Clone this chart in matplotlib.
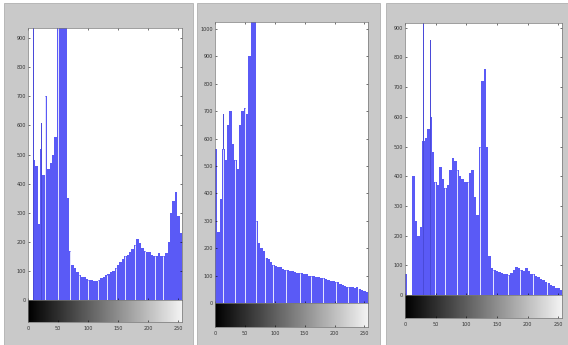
import numpy as np
import matplotlib.pyplot as plt
from matplotlib.patches import Rectangle

# ── Histogram data (64 bins of 4 grey levels each, counts) ────────────────────
bin_starts = np.arange(0, 256, 4)

counts_1 = [0, 0, 480, 460, 260, 520, 430, 700, 450, 470, 500, 560,
            1000, 1000, 1000, 1000, 350, 170, 120, 110, 95, 85, 80, 78,
            72, 70, 68, 65, 65, 70, 75, 80, 85, 90, 95, 100,
            110, 120, 130, 140, 150, 155, 165, 175, 190, 210, 195, 180,
            170, 165, 165, 155, 150, 150, 160, 150, 150, 160, 200, 300,
            340, 370, 290, 230]
counts_2 = [560, 260, 380, 560, 520, 650, 700, 580, 520, 490, 650, 700,
            710, 690, 900, 1100, 1100, 300, 220, 200, 190, 165, 160, 150,
            140, 135, 130, 130, 125, 122, 120, 118, 115, 112, 110, 110,
            108, 105, 105, 100, 100, 98, 96, 95, 92, 90, 88, 85,
            82, 80, 78, 75, 70, 65, 62, 60, 58, 58, 55, 60,
            52, 48, 45, 40]
counts_3 = [70, 0, 0, 400, 250, 200, 230, 520, 530, 560, 600, 480,
            380, 370, 430, 390, 360, 370, 420, 460, 450, 420, 400, 390,
            380, 380, 410, 420, 330, 270, 500, 720, 760, 500, 130, 90,
            85, 80, 78, 75, 70, 72, 68, 75, 85, 95, 90, 85,
            80, 90, 80, 72, 70, 65, 60, 55, 50, 45, 40, 35,
            30, 25, 22, 18]

# single-level spikes
spike_levels_1 = [8, 22, 31]
spike_counts_1 = [2000, 610, 830]
spike_levels_2 = [1, 14]
spike_counts_2 = [620, 690]
spike_levels_3 = [14, 29, 41]
spike_counts_3 = [2000, 2000, 860]

# empty grey levels (white gaps)
empty_1 = [28, 50, 69, 84, 100, 117, 131, 147, 161, 178, 194, 211, 225]
empty_2 = [14, 33, 50, 69, 83, 97, 119, 142, 161, 181, 203, 222, 239]
empty_3 = [49, 66, 85, 103, 122, 144, 168, 188, 209, 231]

y_max = [935, 1025, 916]
y_ticks = [np.arange(0, 901, 100), np.arange(0, 1001, 100), np.arange(0, 901, 100)]
x_ticks = [0, 50, 100, 150, 200, 250]

W, H = 568, 345
BLUE = "#5a5af6"

# panel boxes (pixels): grey panel, hist axes, colorbar bottom
panels = [
    dict(grey=(4, 3, 193, 345), ax=(28, 28, 182, 300), cb_bottom=322),
    dict(grey=(197, 3, 380, 345), ax=(215, 22, 368, 303), cb_bottom=327),
    dict(grey=(386, 3, 568, 345), ax=(405, 23, 562, 295), cb_bottom=318),
]
all_counts = [counts_1, counts_2, counts_3]
all_spikes = [(spike_levels_1, spike_counts_1), (spike_levels_2, spike_counts_2),
              (spike_levels_3, spike_counts_3)]
all_empty = [empty_1, empty_2, empty_3]


def frac(x0, y0, x1, y1):
    return [x0 / W, 1 - y1 / H, (x1 - x0) / W, (y1 - y0) / H]


fig = plt.figure(figsize=(W / 100, H / 100), dpi=100)
fig.patch.set_facecolor("white")

for i, p in enumerate(panels):
    gx0, gy0, gx1, gy1 = p["grey"]
    fig.patches.append(Rectangle((gx0 / W, 1 - gy1 / H), (gx1 - gx0) / W, (gy1 - gy0) / H,
                                 transform=fig.transFigure, facecolor="#c9c9c9",
                                 edgecolor="#b0b0b0", linewidth=0.6, zorder=-10))

    x0, y0, x1, y1 = p["ax"]
    ax = fig.add_axes(frac(x0, y0, x1, y1))
    counts = np.asarray(all_counts[i])
    ax.bar(bin_starts, counts, width=4, align="edge", color=BLUE, linewidth=0)
    lv, ct = all_spikes[i]
    ax.bar(lv, ct, width=1.3, align="edge", color="#4a4ad8", linewidth=0)
    # empty levels show as thin white gaps through the blue fill
    gap_tops = counts[np.asarray(all_empty[i]) // 4]
    ax.vlines(all_empty[i], 0, gap_tops, color="white", linewidth=0.7, alpha=0.85)
    ax.set_xlim(0, 256)
    ax.set_ylim(0, y_max[i])
    ax.set_yticks(y_ticks[i])
    ax.set_yticklabels([str(v) for v in y_ticks[i]], fontsize=3.5, color="#333333")
    ax.set_xticks(x_ticks)
    ax.set_xticklabels([])
    ax.tick_params(direction="in", top=True, right=True, length=1.5, width=0.4, pad=1.5)
    for s in ax.spines.values():
        s.set_linewidth(0.5)
        s.set_color("#777777")

    # grey-level colorbar
    cb = fig.add_axes(frac(x0, y1, x1, p["cb_bottom"]))
    cb.imshow(np.linspace(0, 1, 256)[None, :], cmap="gray", aspect="auto",
              extent=[0, 256, 0, 1], vmin=0, vmax=1.05)
    cb.set_xlim(0, 256)
    cb.set_yticks([])
    cb.set_xticks(x_ticks)
    cb.set_xticklabels([str(v) for v in x_ticks], fontsize=3.5, color="#333333")
    cb.tick_params(direction="in", length=1.5, width=0.4, pad=3)
    for s in cb.spines.values():
        s.set_linewidth(0.5)
        s.set_color("#777777")

plt.savefig("out.png", dpi=100, facecolor="white")
